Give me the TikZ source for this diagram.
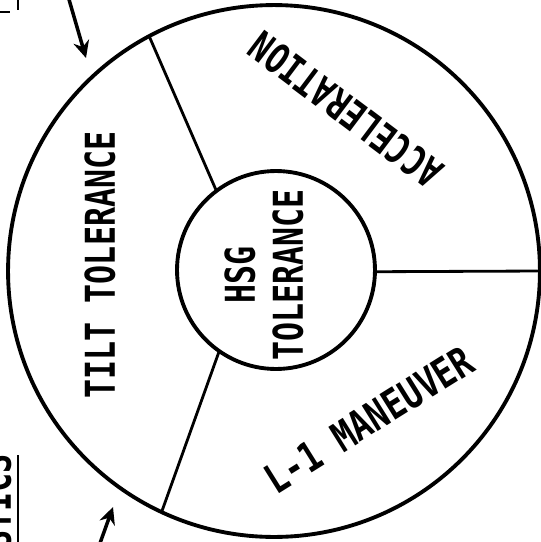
\documentclass[tikz,border=0pt]{standalone}
\usepackage{fontspec}
\newfontfamily\platefont{DejaVu Sans Mono}
\usetikzlibrary{arrows.meta, calc}

\begin{document}
\begin{tikzpicture}[x=0.02cm, y=-0.02cm,
    ring/.style={draw, circle, line width=2.2pt, inner sep=0pt, outer sep=0pt},
    spoke/.style={line width=1.6pt},
    sector/.style={font=\platefont\bfseries\fontsize{18}{21}\selectfont, inner sep=0pt, transform shape, yscale=1.3},
    pointer/.style={line width=2pt, -{Stealth[length=0.34cm, width=0.32cm]}}]
\useasboundingbox (0,0) rectangle (541,542);

% Wheel
\node[ring, minimum size=10.64cm] (rim) at (274,271) {};
\node[ring, minimum size=3.96cm] (hub) at (276,270) {};
\draw[spoke] (hub.127) -- (rim.118);
\draw[spoke] (hub.235) -- (rim.245);
\draw[spoke] (hub.-1) -- (rim.0);

% Sector labels
\node[rotate=90, sector] (tilt) at (100,265) {TILT TOLERANCE};
\node[rotate=90, sector, align=center] (hsg) at (264,275) {HSG\\TOLERANCE};
\node[rotate=143, sector] (accel) at (346,110) {ACCELERATION};
\node[rotate=32, sector, xscale=1.04] (lone) at (369,420) {L-1 MANEUVER};

% Cut-off heading at the left edge
\node[rotate=90, sector] (stics) at (-4,502) {STICS};
\draw[line width=1.4pt] (18,455) -- (18,545);
\draw[line width=1.4pt] (18,-2) -- (18,10);
\draw[line width=1.4pt] (-2,12) -- (10,12);

% Pointers
\coordinate (tailA) at (68,-4);
\coordinate (tipA) at (86,58);
\coordinate (tailB) at (99,546);
\coordinate (tipB) at (113,507);
\draw[pointer] (tailA) -- (tipA);
\draw[pointer] (tailB) -- (tipB);
\end{tikzpicture}
\end{document}
